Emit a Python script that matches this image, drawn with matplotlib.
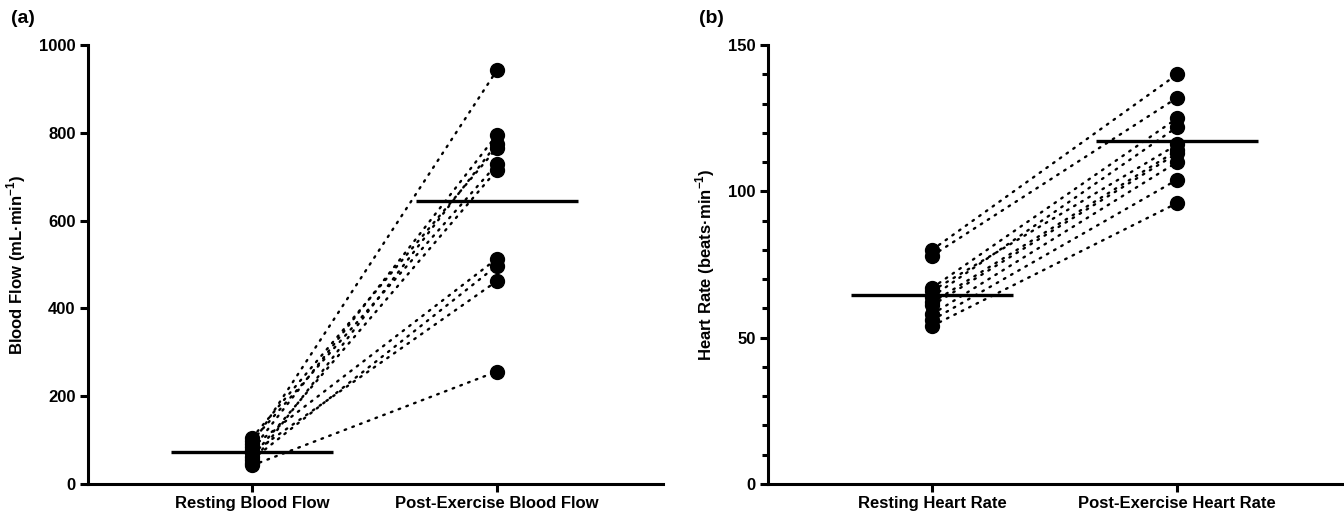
import matplotlib
matplotlib.use("Agg")
import matplotlib.pyplot as plt
from matplotlib.ticker import MultipleLocator

plt.rcParams['font.family'] = ['Liberation Sans', 'DejaVu Sans']
plt.rcParams['font.weight'] = 'bold'
plt.rcParams['mathtext.fontset'] = 'custom'
plt.rcParams['mathtext.rm'] = 'Liberation Sans:bold'
plt.rcParams['mathtext.bf'] = 'Liberation Sans:bold'

# panel (a) blood flow, paired per subject
flow_labels = ["Resting Blood Flow", "Post-Exercise Blood Flow"]
flow_rest = [105, 98, 90, 84, 78, 70, 62, 55, 48, 42]
flow_post = [765, 728, 942, 513, 795, 462, 715, 497, 775, 256]

# panel (b) heart rate, paired per subject
hr_labels = ["Resting Heart Rate", "Post-Exercise Heart Rate"]
hr_rest = [80, 78, 67, 66, 64, 62, 61, 58, 56, 54]
hr_post = [140, 132, 125, 116, 122, 114, 113, 110, 104, 96]


def paired_panel(ax, rest, post, labels, ymax, major, minor, ylabel):
    for r, p in zip(rest, post):
        ax.plot([0, 1], [r, p], ls=(0, (0.7, 2.8)), lw=1.7, color='black',
                dash_capstyle='round', zorder=2)
    ax.plot([0] * len(rest), rest, 'o', ms=10, color='black', zorder=3)
    ax.plot([1] * len(post), post, 'o', ms=10, color='black', zorder=3)
    for x, vals in [(0, rest), (1, post)]:
        m = sum(vals) / len(vals)
        ax.plot([x - 0.33, x + 0.33], [m, m], color='black', lw=2.4,
                solid_capstyle='butt', zorder=4)

    ax.set_xlim(-0.67, 1.68)
    ax.set_ylim(0, ymax)
    ax.set_xticks([0, 1])
    ax.set_xticklabels(labels)
    ax.yaxis.set_major_locator(MultipleLocator(major))
    if minor:
        ax.yaxis.set_minor_locator(MultipleLocator(minor))
    ax.set_ylabel(ylabel, fontsize=12, fontweight='bold', labelpad=8)

    for s in ['top', 'right']:
        ax.spines[s].set_visible(False)
    for s in ['left', 'bottom']:
        ax.spines[s].set_linewidth(2.2)
    ax.tick_params(axis='both', which='major', width=2.2, length=6,
                   labelsize=12, pad=3)
    ax.tick_params(axis='y', which='minor', width=2.2, length=4)
    for t in ax.get_xticklabels() + ax.get_yticklabels():
        t.set_fontweight('bold')


fig = plt.figure(figsize=(13.44, 5.17), dpi=100)
ax1 = fig.add_axes([0.0655, 0.064, 0.428, 0.849])
ax2 = fig.add_axes([0.5714, 0.064, 0.4286, 0.849])

paired_panel(ax1, flow_rest, flow_post, flow_labels, 1000, 200, None,
             r"Blood Flow (mL·min$^{-1}$)")
paired_panel(ax2, hr_rest, hr_post, hr_labels, 150, 50, 10,
             r"Heart Rate (beats·min$^{-1}$)")

fig.text(0.008, 0.98, "(a)", fontsize=14, fontweight='bold', va='top')
fig.text(0.520, 0.98, "(b)", fontsize=14, fontweight='bold', va='top')

fig.savefig("out.png", dpi=100)
